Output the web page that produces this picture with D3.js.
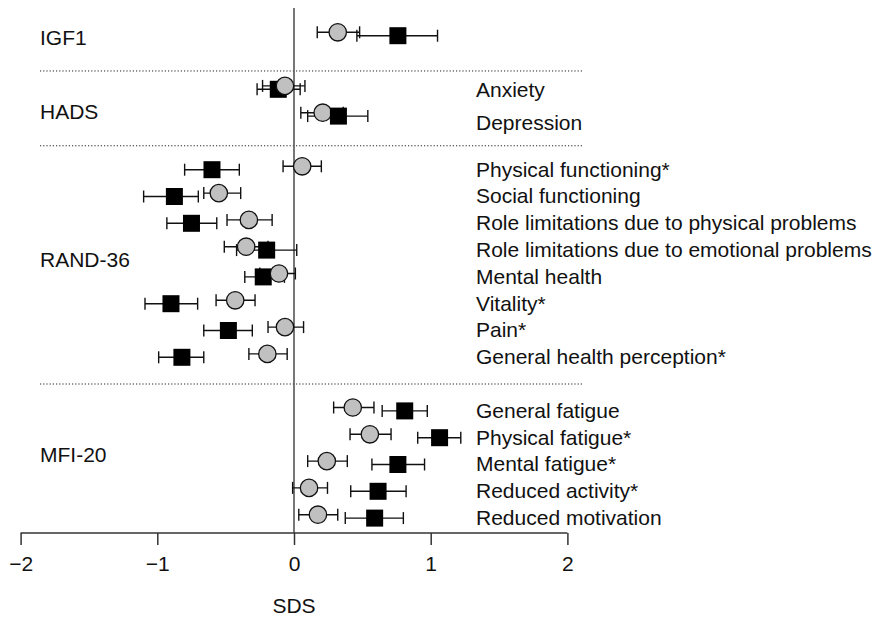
<!DOCTYPE html>
<html>
<head>
<meta charset="utf-8">
<script src="https://cdn.jsdelivr.net/npm/d3@7"></script>
<style>
  body { margin: 0; background: #fff; }
  text { font-family: "Liberation Sans", Arial, Helvetica, sans-serif; font-size: 21px; fill: #111; }
</style>
</head>
<body>
<div id="chart"></div>
<script>
// Groups and the rows inside each group
var groups = ["IGF1", "HADS", "RAND-36", "MFI-20"];
var groupRows = [
  [""],
  ["Anxiety", "Depression"],
  ["Physical functioning*", "Social functioning", "Role limitations due to physical problems",
   "Role limitations due to emotional problems", "Mental health", "Vitality*", "Pain*",
   "General health perception*"],
  ["General fatigue", "Physical fatigue*", "Mental fatigue*", "Reduced activity*", "Reduced motivation"]
];

// Grey circles: mean SDS and 95% CI (one value per row, in order)
var circleMean = [0.32, -0.066, 0.21, 0.06, -0.55, -0.33, -0.35, -0.11, -0.43, -0.066, -0.195, 0.43, 0.555, 0.24, 0.11, 0.175];
var circleLow  = [0.17, -0.23, 0.05, -0.08, -0.66, -0.49, -0.51, -0.25, -0.57, -0.19, -0.33, 0.29, 0.41, 0.10, -0.01, 0.035];
var circleHigh = [0.48, 0.08, 0.36, 0.20, -0.39, -0.16, -0.19, 0.01, -0.285, 0.07, -0.05, 0.585, 0.71, 0.39, 0.245, 0.32];

// Black squares: mean SDS and 95% CI
var squareMean = [0.76, -0.115, 0.325, -0.60, -0.875, -0.75, -0.20, -0.225, -0.90, -0.48, -0.82, 0.81, 1.065, 0.76, 0.615, 0.59];
var squareLow  = [0.46, -0.27, 0.10, -0.80, -1.10, -0.93, -0.42, -0.36, -1.09, -0.66, -0.99, 0.645, 0.905, 0.57, 0.415, 0.375];
var squareHigh = [1.05, 0.045, 0.54, -0.40, -0.70, -0.565, 0.02, -0.07, -0.705, -0.305, -0.66, 0.975, 1.22, 0.955, 0.82, 0.80];

var xTicks = [-2, -1, 0, 1, 2];
var xLabel = "SDS";

// ---- layout
var width = 876, height = 617;

// build row table: one empty slot between groups
var rows = [];
var slot = 0;
groupRows.forEach(function(list, g) {
  list.forEach(function(name, j) {
    var i = rows.length;
    rows.push({
      name: name, group: g, slot: slot, j: j,
      c: {m: circleMean[i], lo: circleLow[i], hi: circleHigh[i]},
      s: {m: squareMean[i], lo: squareLow[i], hi: squareHigh[i]}
    });
    slot++;
  });
  slot++;
});

var x = d3.scaleLinear().domain([-2, 2]).range([20.6, 567.4]);
var y = d3.scaleLinear().domain([0, 18]).range([34, 516.4]);
var axisY = 533;

var svg = d3.select("#chart").append("svg")
  .attr("width", width).attr("height", height);

// dotted group separators
var sepSlots = [1.38, 4.17, 13.06];
svg.selectAll("line.sep").data(sepSlots).enter().append("line")
  .attr("class", "sep")
  .attr("x1", 40).attr("x2", 582)
  .attr("y1", function(d) { return y(d); })
  .attr("y2", function(d) { return y(d); })
  .style("stroke", "#222").style("stroke-width", 1)
  .style("stroke-dasharray", "1.2,2");

// zero line
svg.append("line")
  .attr("x1", x(0)).attr("x2", x(0))
  .attr("y1", 8).attr("y2", axisY)
  .style("stroke", "#555").style("stroke-width", 1.6);

// x axis
var xAxis = d3.axisBottom(x)
  .tickValues(xTicks)
  .tickSize(12)
  .tickPadding(11)
  .tickFormat(function(d) { return d < 0 ? "\u2212" + Math.abs(d) : d; });
var ax = svg.append("g")
  .attr("transform", "translate(0," + axisY + ")")
  .call(xAxis);
ax.select(".domain").attr("d", "M" + x(-2) + ",0H" + x(2))
  .style("stroke", "#333").style("stroke-width", 1.5);
ax.selectAll(".tick line").style("stroke", "#333").style("stroke-width", 1.5);
ax.selectAll(".tick text").style("font-size", "21px").style("fill", "#111")
  .style("font-family", '"Liberation Sans", Arial, sans-serif');

svg.append("text")
  .attr("x", x(0)).attr("y", 605)
  .attr("text-anchor", "middle").attr("dominant-baseline", "central")
  .text(xLabel);

// group labels, nudged to sit where the original puts them
var groupNudge = [3.5, 10, -2, -8];
svg.selectAll("text.group").data(groups).enter().append("text")
  .attr("class", "group")
  .attr("x", 40)
  .attr("y", function(d, g) {
    var r = rows.filter(function(o) { return o.group === g; });
    return y((r[0].slot + r[r.length - 1].slot) / 2) + groupNudge[g];
  })
  .attr("dominant-baseline", "central")
  .text(function(d) { return d; });

// row labels (HADS labels sit a bit lower and wider apart than its markers)
svg.selectAll("text.row").data(rows.filter(function(d) { return d.name; })).enter().append("text")
  .attr("class", "row")
  .attr("x", 476)
  .attr("y", function(d) { return y(d.slot) + (d.group === 1 ? 2 + d.j * 6 : 1); })
  .attr("dominant-baseline", "central")
  .text(function(d) { return d.name; });

// error bars
var off = {c: -1.7, s: 1.7};
var capH = 6;
["c", "s"].forEach(function(k) {
  var g = svg.append("g").attr("class", "err-" + k);
  rows.forEach(function(d) {
    var yy = y(d.slot) + off[k], v = d[k];
    g.append("line").attr("x1", x(v.lo)).attr("x2", x(v.hi)).attr("y1", yy).attr("y2", yy);
    g.append("line").attr("x1", x(v.lo)).attr("x2", x(v.lo)).attr("y1", yy - capH).attr("y2", yy + capH);
    g.append("line").attr("x1", x(v.hi)).attr("x2", x(v.hi)).attr("y1", yy - capH).attr("y2", yy + capH);
  });
  g.selectAll("line").style("stroke", "#111").style("stroke-width", 1.4);
});

// markers, lower value drawn first
var r = 8.7, sq = 17;
rows.forEach(function(d) {
  var marks = [{k: "c", v: d.c.m}, {k: "s", v: d.s.m}].sort(function(a, b) { return a.v - b.v; });
  marks.forEach(function(m) {
    var yy = y(d.slot) + off[m.k];
    if (m.k === "c") {
      svg.append("circle")
        .attr("cx", x(m.v)).attr("cy", yy).attr("r", r)
        .style("fill", "#c0c0c0").style("stroke", "#111").style("stroke-width", 1.3);
    } else {
      svg.append("rect")
        .attr("x", x(m.v) - sq / 2).attr("y", yy - sq / 2)
        .attr("width", sq).attr("height", sq)
        .style("fill", "#000");
    }
  });
});
</script>
</body>
</html>
